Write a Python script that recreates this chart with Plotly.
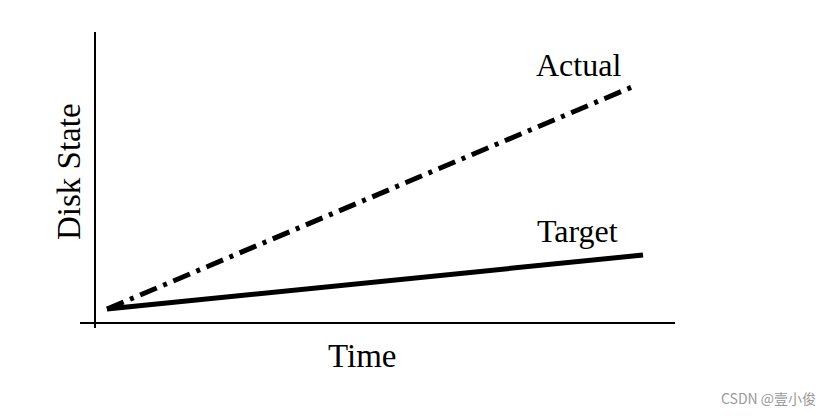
import plotly.graph_objects as go

# Data (time vs disk state, arbitrary units)
time_pts = [12, 537]
actual_vals = [14, 236]
time_target = [12, 548]
target_vals = [14, 68]

series_labels = ["Actual", "Target"]
x_title = "Time"
y_title = "Disk State"
watermark = "CSDN @壹小俊"

fig = go.Figure()
fig.add_trace(go.Scatter(x=time_pts, y=actual_vals, mode="lines",
                         line=dict(color="black", width=5, dash="18px,7px,4px,7px"),
                         name=series_labels[0]))
fig.add_trace(go.Scatter(x=time_target, y=target_vals, mode="lines",
                         line=dict(color="black", width=5),
                         name=series_labels[1]))

serif = "Liberation Serif, Times New Roman, serif"
H = 296.0
fig.add_annotation(x=483, y=258, text=series_labels[0], showarrow=False,
                   xanchor="center", yanchor="middle",
                   font=dict(family=serif, size=32, color="black"))
fig.add_annotation(x=482, y=92, text=series_labels[1], showarrow=False,
                   xanchor="center", yanchor="middle",
                   font=dict(family=serif, size=32, color="black"))
fig.add_annotation(xref="paper", yref="paper", x=(362-80)/595, y=-(356-328)/H,
                   text=x_title, showarrow=False, xanchor="center", yanchor="middle",
                   font=dict(family=serif, size=33, color="black"))
fig.add_annotation(xref="paper", yref="paper", x=-(80-69)/595, y=(328-172)/H,
                   text=y_title, showarrow=False, textangle=-90,
                   xanchor="center", yanchor="middle",
                   font=dict(family=serif, size=33, color="black"))
fig.add_annotation(xref="paper", yref="paper", x=(818-80)/595, y=-(398-328)/H,
                   xanchor="right", yanchor="middle", text=watermark, showarrow=False,
                   font=dict(family="Noto Sans CJK SC, sans-serif", size=14, color="#9a9a9a"))

fig.update_xaxes(range=[-15, 580], showgrid=False, showticklabels=False, ticks="",
                 zeroline=True, zerolinecolor="black", zerolinewidth=2, showline=False)
fig.update_yaxes(range=[-5, 291], showgrid=False, showticklabels=False, ticks="",
                 zeroline=True, zerolinecolor="black", zerolinewidth=2, showline=False)

fig.update_layout(width=838, height=416, showlegend=False,
                  plot_bgcolor="white", paper_bgcolor="white",
                  margin=dict(l=72, r=171, t=24, b=96))

fig.write_html("out.html")
